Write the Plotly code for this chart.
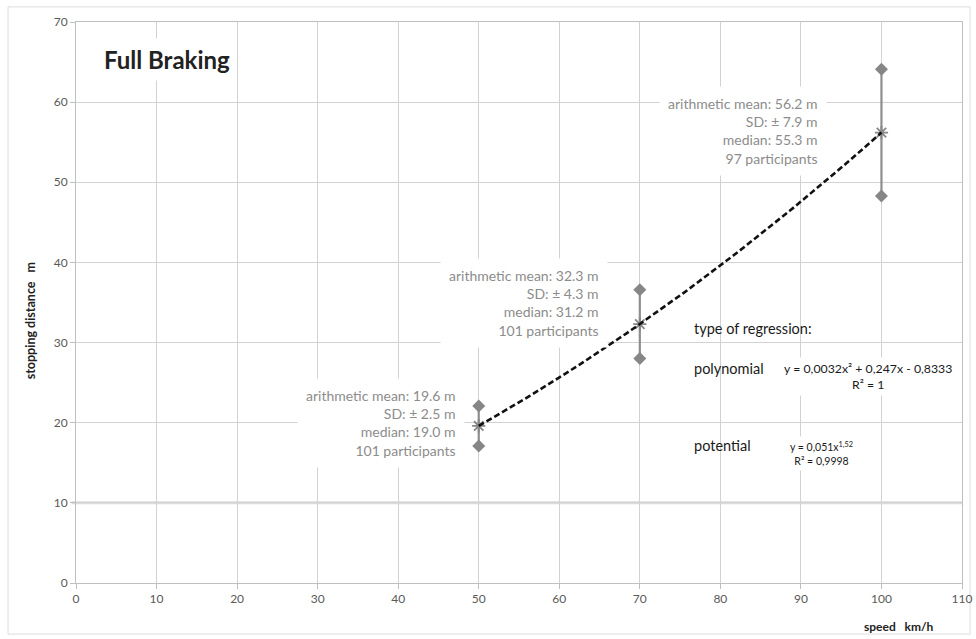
import numpy as np
import plotly.graph_objects as go

# Measured stopping distances per test speed
speeds = [50, 70, 100]
mean_dist = [19.6, 32.3, 56.2]
sd_dist = [2.5, 4.3, 7.9]
median_dist = [19.0, 31.2, 55.3]
participants = [101, 101, 97]

x_ticks = list(range(0, 111, 10))
y_ticks = list(range(0, 71, 10))

FONT = "Lato"
GRID = "#d2d2d2"
MARK = "#868686"

# Quadratic trend through the means
coef = np.polyfit(speeds, mean_dist, 2)
xs = np.linspace(speeds[0], speeds[-1], 80)
ys = np.polyval(coef, xs)

lo = [m - s for m, s in zip(mean_dist, sd_dist)]
hi = [m + s for m, s in zip(mean_dist, sd_dist)]

fig = go.Figure()

# SD whiskers
fig.add_trace(go.Scatter(
    x=speeds, y=mean_dist, mode="markers",
    marker=dict(size=1, color="rgba(0,0,0,0)"),
    error_y=dict(type="data", array=sd_dist, visible=True,
                 color="#8e8e8e", thickness=2.2, width=0),
    showlegend=False, hoverinfo="skip"))

# Diamond ends at mean +/- SD
fig.add_trace(go.Scatter(
    x=speeds + speeds, y=lo + hi, mode="markers",
    marker=dict(symbol="diamond", size=10, color=MARK),
    showlegend=False))

# Mean markers
fig.add_trace(go.Scatter(
    x=speeds, y=mean_dist, mode="markers",
    marker=dict(symbol="asterisk-open", size=11, color=MARK,
                line=dict(color=MARK, width=1.8)),
    showlegend=False))

# Regression curve
fig.add_trace(go.Scatter(
    x=xs, y=ys, mode="lines",
    line=dict(color="#111111", width=2.6, dash="6px,3px"),
    showlegend=False))

# Statistic labels beside each whisker
label_pos = [(48.3, 20.0), (66.0, 35.0), (93.3, 56.35)]
for (lx, ly), m, s, md, n in zip(label_pos, mean_dist, sd_dist, median_dist, participants):
    txt = (f"arithmetic mean: {m:.1f} m<br>SD: ± {s:.1f} m<br>"
           f"median: {md:.1f} m<br>{n} participants")
    fig.add_annotation(
        x=lx, y=ly, xref="x", yref="y", text=txt, showarrow=False,
        xanchor="right", yanchor="middle", align="right",
        font=dict(family=FONT, size=14, color="#8c8c8c"),
        bgcolor="white", borderpad=8)

# Title
fig.add_annotation(
    x=2.6, y=65.3, xref="x", yref="y", text="<b>Full Braking</b>",
    showarrow=False, xanchor="left", yanchor="middle",
    font=dict(family=FONT, size=24, color="#222222"),
    bgcolor="white", borderpad=6)

# Regression notes
note_font = dict(family=FONT, size=14.5, color="#1a1a1a")
fig.add_annotation(x=76.5, y=31.8, xref="x", yref="y", text="type of regression:",
                   showarrow=False, xanchor="left", yanchor="middle", font=note_font)
fig.add_annotation(x=76.5, y=26.8, xref="x", yref="y", text="polynomial",
                   showarrow=False, xanchor="left", yanchor="middle", font=note_font)
fig.add_annotation(x=76.5, y=17.2, xref="x", yref="y", text="potential",
                   showarrow=False, xanchor="left", yanchor="middle", font=note_font)
fig.add_annotation(x=98.3, y=25.8, xref="x", yref="y",
                   text="y = 0,0032x² + 0,247x - 0,8333<br>R² = 1",
                   showarrow=False, xanchor="center", yanchor="middle", align="center",
                   font=dict(family=FONT, size=12.3, color="#1a1a1a"),
                   bgcolor="white", borderpad=3)
fig.add_annotation(x=92.5, y=16.1, xref="x", yref="y",
                   text="y = 0,051x<sup>1,52</sup><br>R² = 0,9998",
                   showarrow=False, xanchor="center", yanchor="middle", align="center",
                   font=dict(family=FONT, size=10.5, color="#1a1a1a"),
                   bgcolor="white", borderpad=3)

# Axis titles
fig.add_annotation(x=-0.051, y=0.468, xref="paper", yref="paper",
                   text="<b>stopping distance   m</b>", textangle=-90,
                   showarrow=False, xanchor="center", yanchor="middle",
                   font=dict(family=FONT, size=12.5, color="#222222"))
fig.add_annotation(x=0.929, y=-0.078, xref="paper", yref="paper",
                   text="<b>speed   km/h</b>",
                   showarrow=False, xanchor="center", yanchor="middle",
                   font=dict(family=FONT, size=12, color="#222222"))

# Outer frame
fig.add_shape(type="rect", xref="paper", yref="paper",
              x0=-0.0767, x1=1.009, y0=-0.091, y1=1.027,
              line=dict(color="#dddddd", width=1), layer="below")

# Heavier rule along the 10 m line
fig.add_shape(type="line", xref="paper", yref="y",
              x0=-0.005, x1=1.0, y0=y_ticks[1], y1=y_ticks[1],
              line=dict(color="#dcdcdc", width=3), layer="below")

fig.update_xaxes(range=[0, 110], tickvals=x_ticks, ticktext=[str(v) for v in x_ticks],
                 showgrid=True, gridcolor=GRID, gridwidth=1,
                 showline=True, linecolor="#bfbfbf", linewidth=1, mirror=True,
                 ticks="outside", ticklen=5, tickcolor="#bfbfbf",
                 tickfont=dict(family=FONT, size=12, color="#595959"),
                 zeroline=False, automargin=False, ticklabeloverflow="allow")
fig.update_yaxes(range=[0, 70], tickvals=y_ticks, ticktext=[str(v) for v in y_ticks],
                 showgrid=True, gridcolor=GRID, gridwidth=1,
                 showline=True, linecolor="#bfbfbf", linewidth=1, mirror=True,
                 ticks="outside", ticklen=5, tickcolor="#bfbfbf",
                 tickfont=dict(family=FONT, size=12, color="#595959"),
                 zeroline=False, automargin=False)

fig.update_layout(width=976, height=639,
                  margin=dict(l=76, r=14, t=22, b=56),
                  paper_bgcolor="white", plot_bgcolor="white",
                  showlegend=False)

fig.write_html("out.html")
